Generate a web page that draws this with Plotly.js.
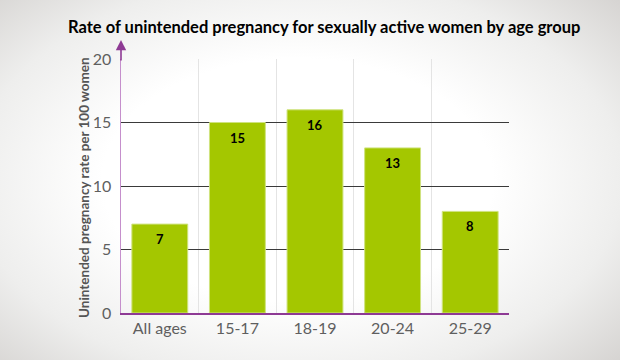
<!DOCTYPE html>
<html>
<head>
<meta charset="utf-8">
<script src="https://cdn.plot.ly/plotly-3.0.1.min.js"></script>
<style>
html,body{margin:0;padding:0;width:620px;height:360px;overflow:hidden;}
body{background: radial-gradient(ellipse 70% 75% at 48% 50%, #ffffff 45%, #eeeeed 75%, #d6d4d2 100%);}
#chart{width:620px;height:360px;}
</style>
</head>
<body>
<div id="chart"></div>
<script>
const categories = ["All ages", "15-17", "18-19", "20-24", "25-29"];
const rates = [7, 15, 16, 13, 8];
const barLabels = ["7", "15", "16", "13", "8"];
const yTicks = [0, 5, 10, 15, 20];

const FONT = "Lato, 'Open Sans', sans-serif";

const trace = {
  type: "bar",
  x: categories,
  y: rates,
  marker: {color: "#a4c700", line: {color: "#cfe37f", width: 1}},
  hoverinfo: "none"
};

const labelAnnotations = categories.map((c, i) => ({
  xref: "x", yref: "y",
  x: c, y: rates[i],
  text: barLabels[i],
  showarrow: false,
  yanchor: "middle",
  yshift: -15,
  font: {family: FONT, size: 13, color: "#000000", weight: "bold"}
}));

const layout = {
  width: 620, height: 360,
  margin: {l: 121, r: 111, t: 59, b: 47},
  paper_bgcolor: "rgba(0,0,0,0)",
  plot_bgcolor: "rgba(0,0,0,0)",
  bargap: 0.28,
  showlegend: false,
  title: {
    text: "Rate of unintended pregnancy for sexually active women by age group",
    font: {family: FONT, size: 16.5, color: "#000000", weight: "bold"},
    xref: "container", x: 0.523, xanchor: "center", y: 0.925, yanchor: "middle"
  },
  xaxis: {
    type: "category",
    tickson: "boundaries",
    showgrid: true, gridcolor: "#e4e4e4", gridwidth: 1,
    showline: true, linecolor: "#8e3a94", linewidth: 1.5,
    ticks: "", ticklen: 0,
    tickfont: {family: FONT, size: 16, color: "#5f5f5f"},
    fixedrange: true
  },
  yaxis: {
    range: [0, 20],
    tickvals: yTicks,
    ticktext: yTicks.map(String),
    showgrid: true, gridcolor: "#3a3a3a", gridwidth: 1,
    zeroline: false,
    showline: true, linecolor: "#c58fcc", linewidth: 1.5,
    ticks: "", ticklabelstandoff: 5,
    tickfont: {family: FONT, size: 16, color: "#5f5f5f"},
    fixedrange: true
  },
  annotations: labelAnnotations.concat([
    {
      xref: "paper", yref: "paper",
      x: 0, y: 0.5, xanchor: "center", yanchor: "middle",
      xshift: -37, yshift: -2,
      textangle: -90,
      text: "Unintended pregnancy rate per 100 women",
      showarrow: false,
      font: {family: FONT, size: 13.5, color: "#555555", weight: "bold"}
    },
    {
      xref: "paper", yref: "paper",
      x: 0, y: 1.075,
      ax: 0, ay: 22,
      axref: "pixel", ayref: "pixel",
      text: "",
      showarrow: true,
      arrowhead: 2, arrowsize: 1.3, arrowwidth: 1.6,
      arrowcolor: "#8e3a94"
    }
  ])
};

Plotly.newPlot("chart", [trace], layout, {staticPlot: true, displayModeBar: false});
</script>
</body>
</html>
